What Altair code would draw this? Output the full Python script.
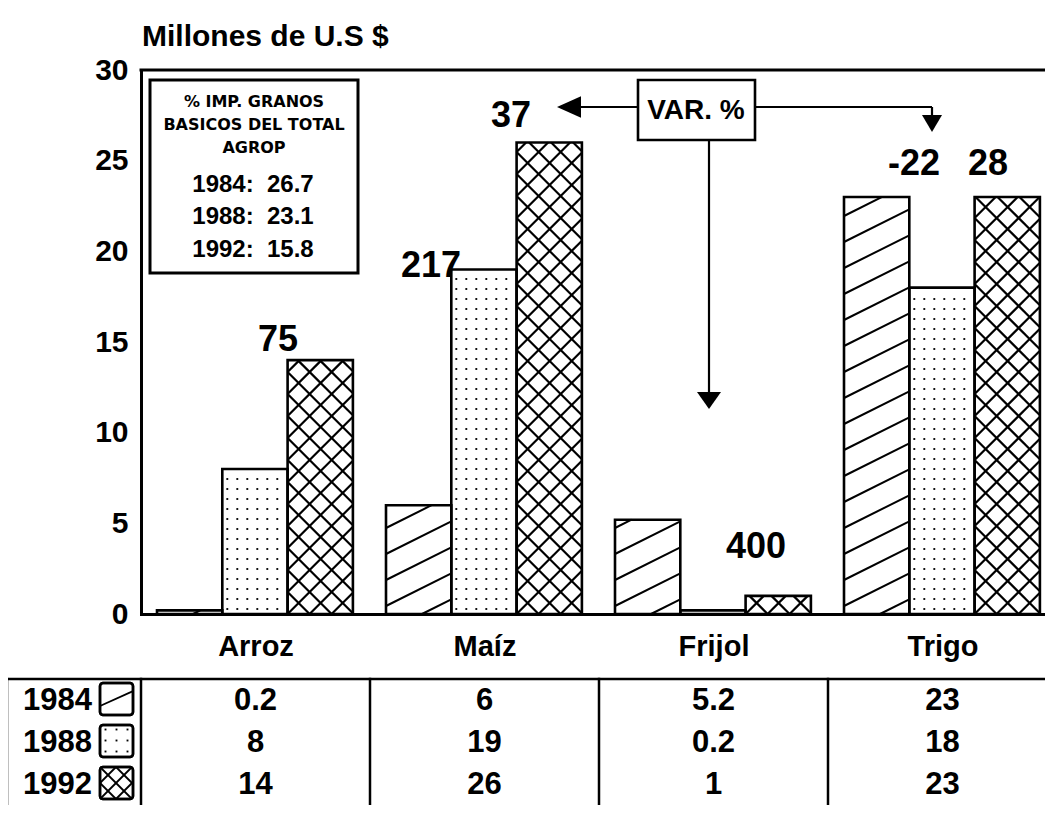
import json
import numpy as np
import pandas as pd
import altair as alt

# ---------------- data ----------------
categories = ["Arroz", "Maíz", "Frijol", "Trigo"]
years = ["1984", "1988", "1992"]
values_1984 = [0.2, 6, 5.2, 23]
values_1988 = [8, 19, 0.2, 18]
values_1992 = [14, 26, 1, 23]
table_1984 = ["0.2", "6", "5.2", "23"]
table_1988 = ["8", "19", "0.2", "18"]
table_1992 = ["14", "26", "1", "23"]
y_ticks = [0, 5, 10, 15, 20, 25, 30]
var_labels = ["75", "217", "37", "400", "-22", "28"]
inset_title = ["% IMP. GRANOS", "BASICOS DEL TOTAL", "AGROP"]
inset_shares = ["26.7", "23.1", "15.8"]
y_title = "Millones de U.S $"
var_title = "VAR. %"

series = [values_1984, values_1988, values_1992]
table_rows = [table_1984, table_1988, table_1992]

# ---------------- layout (page pixels) ----------------
LEFT, TOP, BASE = 141, 70, 614
GROUP_PX = 229
PLOT_W = 904
PLOT_H = BASE - TOP
YMAX = 30
XMAX = PLOT_W / GROUP_PX
PXY = PLOT_H / YMAX
BAR_OFF = 16 / GROUP_PX
BAR_W = 65.3 / GROUP_PX
FONT = "Liberation Sans"


def X(px):
    return (px - LEFT) / GROUP_PX


def Y(py):
    return (BASE - py) / PXY


def lines(x0, y0, w, h, slope, spacing, phase, min_len=3.0):
    out = []
    cmin = min(0.0, -slope * w)
    cmax = max(h, h - slope * w)
    k0 = int(np.floor((cmin - phase) / spacing)) - 1
    k1 = int(np.ceil((cmax - phase) / spacing)) + 1
    for k in range(k0, k1 + 1):
        c = phase + k * spacing
        if slope > 0:
            xa, xb = max(0.0, -c / slope), min(w, (h - c) / slope)
        else:
            xa, xb = max(0.0, (h - c) / slope), min(w, -c / slope)
        if (xb - xa) * np.sqrt(1 + slope * slope) < min_len:
            continue
        ya, yb = c + slope * xa, c + slope * xb
        out.append(dict(x=x0 + xa / GROUP_PX, x2=x0 + xb / GROUP_PX,
                        y=y0 + ya / PXY, y2=y0 + yb / PXY))
    return out


def dots(x0, y0, w, h, spacing, px, py):
    out = []
    for a in np.arange(px, w - 1.5, spacing):
        for b in np.arange(py, h - 1.5, spacing):
            out.append(dict(x=x0 + a / GROUP_PX, y=y0 + b / PXY))
    return out


def pattern(kind, x0, y0, w, h, small=False):
    if kind == 0:
        return lines(x0, y0, w, h, 0.45, 200, 9) if small else lines(x0, y0, w, h, 0.5, 26, 8), []
    if kind == 1:
        return [], dots(x0, y0, w, h, 11, 5.5, 5.5) if small else dots(x0, y0, w, h, 10, 5, 5)
    sp = 16 if small else 22
    return lines(x0, y0, w, h, 1, sp, 0) + lines(x0, y0, w, h, -1, sp, 0), []


# bars
bar_rows = []
for j, (yr, vals) in enumerate(zip(years, series)):
    for i, (cat, v) in enumerate(zip(categories, vals)):
        x0 = i + BAR_OFF + j * BAR_W
        bar_rows.append(dict(cat=cat, year=yr, k=j, x=x0, x2=x0 + BAR_W, y=0.0, y2=v))
bars = pd.DataFrame(bar_rows)

# table geometry
TABLE_TOP = 679
TABLE_BOTTOM = 806
row_c = [699, 741, 783]
SW_H = 32
swatch_rows = []
for j, yr in enumerate(years):
    swatch_rows.append(dict(year=yr, k=j, x=X(100), x2=X(133),
                            y=Y(row_c[j] + SW_H / 2), y2=Y(row_c[j] - SW_H / 2)))
swatches = pd.DataFrame(swatch_rows)

hatch, cross, dotpts, sw_lines, sw_dots = [], [], [], [], []
for r in bar_rows:
    segs, pts = pattern(r["k"], r["x"], 0.0, BAR_W * GROUP_PX, r["y2"] * PXY)
    if r["k"] == 0:
        hatch += segs
    elif r["k"] == 2:
        cross += segs
    dotpts += pts
for r in swatch_rows:
    segs, pts = pattern(r["k"], r["x"], r["y"], 33, SW_H, small=True)
    sw_lines += segs
    sw_dots += pts

hatch_df = pd.DataFrame(hatch)
cross_df = pd.DataFrame(cross)
dots_df = pd.DataFrame(dotpts)
swl_df = pd.DataFrame(sw_lines)
swd_df = pd.DataFrame(sw_dots)

# table texts
cells = []
for j, row in enumerate(table_rows):
    for i, lab in enumerate(row):
        cells.append(dict(x=i + 0.5, y=Y(row_c[j] + 0.058 * 31), label=lab))
cells_df = pd.DataFrame(cells)
rowlab_df = pd.DataFrame([dict(x=X(92), y=Y(row_c[j] + 0.058 * 31), label=yr)
                          for j, yr in enumerate(years)])

# table lines
tl = [dict(x=X(7), x2=XMAX, y=Y(TABLE_TOP), y2=Y(TABLE_TOP)),
      dict(x=X(7), x2=X(7), y=Y(TABLE_TOP), y2=Y(TABLE_BOTTOM))]
tl += [dict(x=float(i), x2=float(i), y=Y(TABLE_TOP), y2=Y(TABLE_BOTTOM)) for i in range(len(categories))]
tlines_df = pd.DataFrame(tl)
frame_df = pd.DataFrame([dict(x=0.0, x2=XMAX, y=float(YMAX), y2=float(YMAX))])

# annotations
ann_px = [(278, 338), (431, 264), (511, 114), (756, 545), (914, 162), (988, 162)]
ann_df = pd.DataFrame([dict(x=X(px), y=Y(py + 0.058 * 36), label=lab)
                       for lab, (px, py) in zip(var_labels, ann_px)])
title_df = pd.DataFrame([dict(x=X(142), y=Y(37), label=y_title)])

inset_box = pd.DataFrame([dict(x=X(150), x2=X(358), y=Y(273), y2=Y(80))])
inset_t_df = pd.DataFrame([dict(x=X(254), y=Y(py + 0.058 * 16), label=t)
                           for t, py in zip(inset_title, [101, 124, 147])])
inset_y_df = pd.DataFrame([dict(x=X(253), y=Y(py + 0.058 * 24), label=f"{yr}:\u00a0\u00a0{s}")
                           for yr, s, py in zip(years, inset_shares, [184, 216, 249])])

var_box = pd.DataFrame([dict(x=X(638), x2=X(755), y=Y(140), y2=Y(80))])
var_t_df = pd.DataFrame([dict(x=X(696), y=Y(109 + 0.058 * 28), label=var_title)])
arrows_df = pd.DataFrame([
    dict(x=X(578), x2=X(638), y=Y(107), y2=Y(107)),
    dict(x=X(755), x2=X(932), y=Y(107), y2=Y(107)),
    dict(x=X(932), x2=X(932), y=Y(107), y2=Y(118)),
    dict(x=X(709), x2=X(709), y=Y(140), y2=Y(394)),
])
heads_df = pd.DataFrame([
    dict(x=X(569), y=Y(107), shape="M -1 0 L 1 -0.9 L 1 0.9 Z", size=576),
    dict(x=X(932), y=Y(123.5), shape="M -1 -0.85 L 1 -0.85 L 0 0.85 Z", size=400),
    dict(x=X(709), y=Y(400.5), shape="M -1 -0.7 L 1 -0.7 L 0 0.7 Z", size=576),
])

# ---------------- scales / axes ----------------
xs = alt.Scale(domain=[0, XMAX], nice=False, zero=False)
ys = alt.Scale(domain=[0, YMAX], nice=False, zero=False)
xaxis = alt.Axis(values=[i + 0.5 for i in range(len(categories))],
                 labelExpr=json.dumps(categories) + "[floor(datum.value)]",
                 ticks=False, tickSize=0, labelPadding=18, labelFontSize=29,
                 labelFont=FONT, labelFontWeight="bold", labelColor="black",
                 domainColor="black", domainWidth=3, domainCap="square", grid=False,
                 title=None, labelFlush=False, labelOverlap=False, labelBound=False)
yaxis = alt.Axis(values=y_ticks, ticks=False, tickSize=0, labelPadding=13, labelFontSize=30,
                 labelFont=FONT, labelFontWeight="bold", labelColor="black",
                 domainColor="black", domainWidth=3, domainCap="square", grid=False,
                 title=None, labelFlush=False, labelOverlap=False, labelBound=False)


def E(x2=False, y2=False):
    e = dict(x=alt.X("x:Q", scale=xs, axis=xaxis), y=alt.Y("y:Q", scale=ys, axis=yaxis))
    if x2:
        e["x2"] = alt.X2("x2:Q")
    if y2:
        e["y2"] = alt.Y2("y2:Q")
    return e


def text_layer(df, size, font=FONT, align="center", weight="bold"):
    return alt.Chart(df).mark_text(font=font, fontSize=size, fontWeight=weight, align=align,
                                   baseline="middle", color="black").encode(**E(), text="label:N")


layers = [
    alt.Chart(bars).mark_rect(fill="white", strokeWidth=0).encode(**E(True, True)),
    alt.Chart(hatch_df).mark_rule(color="black", strokeWidth=2).encode(**E(True, True)),
    alt.Chart(cross_df).mark_rule(color="black", strokeWidth=2.2).encode(**E(True, True)),
    alt.Chart(dots_df).mark_square(color="black", size=3.5, opacity=1).encode(**E()),
    alt.Chart(bars).mark_rect(fill="white", fillOpacity=0, stroke="black", strokeWidth=2.6).encode(**E(True, True)),
    alt.Chart(frame_df).mark_rule(color="black", strokeWidth=3, strokeCap="square").encode(**E(True, True)),
    # inset box
    alt.Chart(inset_box).mark_rect(fill="white", stroke="black", strokeWidth=3).encode(**E(True, True)),
    text_layer(inset_t_df, 16, font="DejaVu Sans"),
    text_layer(inset_y_df, 24),
    # VAR arrows
    alt.Chart(arrows_df).mark_rule(color="black", strokeWidth=2.2).encode(**E(True, True)),
    alt.Chart(heads_df).mark_point(filled=True, color="black", opacity=1, strokeWidth=0).encode(
        **E(), shape=alt.Shape("shape:N", scale=None), size=alt.Size("size:Q", scale=None)),
    alt.Chart(var_box).mark_rect(fill="white", stroke="black", strokeWidth=2.6).encode(**E(True, True)),
    text_layer(var_t_df, 28),
    text_layer(ann_df, 36),
    text_layer(title_df, 30, align="left"),
    # table
    alt.Chart(tlines_df).mark_rule(color="black", strokeWidth=2.5, strokeCap="square").encode(**E(True, True)),
    alt.Chart(swatches).mark_rect(fill="white", stroke="black", strokeWidth=2.5, cornerRadius=3).encode(**E(True, True)),
    alt.Chart(swl_df).mark_rule(color="black", strokeWidth=1.8).encode(**E(True, True)),
    alt.Chart(swd_df).mark_square(color="black", size=3.5, opacity=1).encode(**E()),
    alt.Chart(swatches).mark_rect(fillOpacity=0, fill="white", stroke="black", strokeWidth=2.5, cornerRadius=3).encode(**E(True, True)),
    text_layer(cells_df, 31),
    text_layer(rowlab_df, 31, align="right"),
]

chart = alt.layer(*layers).properties(
    width=PLOT_W, height=PLOT_H,
    padding={"left": 133, "top": 62, "right": 0, "bottom": 191},
    autosize=alt.AutoSizeParams(type="none"),
).configure_view(stroke=None).configure(background="white")

chart.save("out.html", embed_options={"renderer": "svg", "actions": False})
